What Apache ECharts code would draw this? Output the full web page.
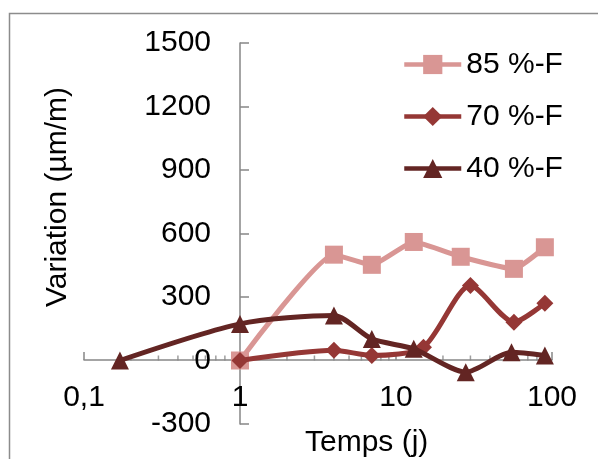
<!DOCTYPE html>
<html>
<head>
<meta charset="utf-8">
<script src="https://cdn.jsdelivr.net/npm/echarts@6/dist/echarts.min.js"></script>
<style>
html,body{margin:0;padding:0;background:#fff;}
#c{width:598px;height:459px;}
</style>
</head>
<body>
<div id="c"></div>
<script>
// ---- data ----
const seriesNames = ['85 %-F', '70 %-F', '40 %-F'];
const s85 = [[1, 0], [4, 500], [7, 452], [13, 560], [26, 490], [57, 433], [90, 535]];
const s70 = [[1, 0], [4, 48], [7, 24], [15, 63], [30, 354], [57, 181], [90, 271]];
const s40 = [[0.17, 0], [1, 173], [4, 213], [7, 102], [13, 55], [28, -55], [55, 39], [90, 24]];
const yTicks = [-300, 0, 300, 600, 900, 1200, 1500];
const xTicks = [0.1, 1, 10, 100];
const minorTickValues = [0.2,0.3,0.4,0.5,0.6,0.7,0.8,0.9, 2,3,4,5,6,7,8,9, 20,30,40,50,60,70,80,90];
const colors = ['#D99694', '#953735', '#632523'];

const FONT = 'Liberation Sans, Arial, sans-serif';
const FS = 30;
const chart = echarts.init(document.getElementById('c'));
const axisGray = '#868686';

chart.setOption({
  animation: false,
  backgroundColor: '#fff',
  grid: { left: 84, right: 46, top: 43, bottom: 35, containLabel: false, outerBoundsMode: 'none' },
  title: {
    text: 'Temps (j)', left: 300, top: 423,
    textStyle: { fontFamily: FONT, fontSize: FS, fontWeight: 'normal', color: '#000' }
  },
  legend: {
    data: seriesNames,
    orient: 'vertical', left: 397, top: 44,
    itemWidth: 57, itemHeight: 24, itemGap: 21,
    lineStyle: { width: 4.5 },
    textStyle: { fontFamily: FONT, fontSize: FS, color: '#000', lineHeight: 31 }
  },
  graphic: [
    { type: 'rect', shape: { x: 9.5, y: 13.5, width: 620, height: 480 },
      style: { fill: 'none', stroke: '#8c8c8c', lineWidth: 1.5 }, z: -1 },
    { type: 'text', x: 58, y: 197, rotation: Math.PI / 2,
      style: { text: 'Variation (µm/m)', font: FS + 'px ' + FONT, fill: '#000', align: 'center', verticalAlign: 'middle' } }
  ],
  xAxis: {
    type: 'log', logBase: 10, min: xTicks[0], max: xTicks[xTicks.length - 1],
    offset: -64,
    axisLine: { onZero: false, lineStyle: { color: axisGray, width: 1.5 } },
    axisTick: { inside: true, length: 8, lineStyle: { color: axisGray, width: 1.5 } },
    splitLine: { show: false },
    axisLabel: {
      margin: 23, fontFamily: FONT, fontSize: FS, color: '#000',
      formatter: v => String(v).replace('.', ',')
    }
  },
  yAxis: {
    type: 'value', min: yTicks[0], max: yTicks[yTicks.length - 1], interval: 300,
    offset: -156,
    axisLine: { show: true, onZero: false, lineStyle: { color: axisGray, width: 1.5 } },
    axisTick: { show: true, inside: true, length: 9, lineStyle: { color: axisGray, width: 1.5 } },
    splitLine: { show: false },
    axisLabel: { margin: 29, fontFamily: FONT, fontSize: FS, color: '#000', formatter: v => String(v) }
  },
  series: [
    { type: 'scatter', name: 'minor', data: minorTickValues.map(v => [v, 0]), symbol: 'rect',
      symbolSize: [1.5, 5], symbolOffset: [0, -2.5], itemStyle: { color: axisGray }, silent: true, z: 1 },
    { type: 'line', name: seriesNames[0], data: s85, smooth: 0.15, symbol: 'rect', symbolSize: 18,
      lineStyle: { width: 5, color: colors[0] }, itemStyle: { color: colors[0] }, z: 2 },
    { type: 'line', name: seriesNames[1], data: s70, smooth: 0.25, symbol: 'diamond', symbolSize: 17,
      lineStyle: { width: 5, color: colors[1] }, itemStyle: { color: colors[1] }, z: 3 },
    { type: 'line', name: seriesNames[2], data: s40, smooth: 0.25, symbol: 'triangle', symbolSize: 18,
      lineStyle: { width: 5, color: colors[2] }, itemStyle: { color: colors[2] }, z: 4 }
  ]
});
</script>
</body>
</html>
